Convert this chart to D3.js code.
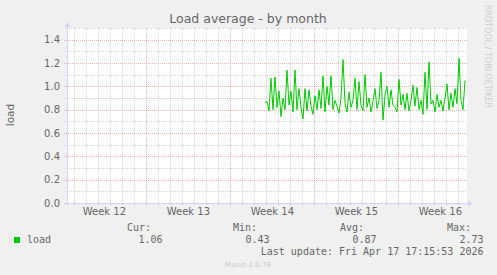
<!DOCTYPE html>
<html><head><meta charset="utf-8">
<script src="https://cdn.jsdelivr.net/npm/d3@7"></script>
<style>
html,body{margin:0;padding:0;background:#f0f0f0;}
svg{display:block;}
text{font-family:"DejaVu Sans",sans-serif;}
.mono{font-family:"DejaVu Sans Mono",monospace;}
</style></head>
<body>
<script>
// ---- data ----
const title = "Load average - by month";
const yLabel = "load";
const seriesName = "load";
const endTime = Date.UTC(2026, 3, 17, 17, 15, 53);
const windowHours = 800;
const stepHours = 4;
const firstSample = Date.UTC(2026, 2, 31, 21, 15, 53);
const loadValues = [
  0.86,0.87,0.79,1.07,0.80,1.08,0.82,0.96,0.74,0.90,
  0.80,1.14,0.84,0.96,0.78,1.14,0.80,0.98,0.82,0.72,
  0.98,0.79,0.97,0.83,0.76,0.92,0.80,0.97,0.81,1.09,
  0.78,1.00,0.84,1.09,0.80,0.88,0.83,0.77,0.90,1.23,
  0.86,0.78,0.95,0.82,0.88,1.07,0.80,1.04,0.84,0.79,
  1.10,0.82,0.90,0.78,0.87,0.98,0.81,0.88,1.12,0.71,
  0.93,1.00,0.82,0.97,0.84,0.82,0.78,1.06,0.84,0.93,
  0.80,0.94,0.79,0.88,1.01,0.83,0.99,0.80,0.88,0.76,
  1.12,0.80,1.21,0.85,0.88,0.78,0.93,0.82,0.88,0.79,
  0.90,1.02,0.80,0.94,0.82,0.98,0.85,1.24,0.88,0.80,
  1.05
];
const yTicks = [0.0,0.2,0.4,0.6,0.8,1.0,1.2,1.4];
const yMinorTicks = [0.1,0.3,0.5,0.7,0.9,1.1,1.3,1.5];
const weekLabels = ["Week 12","Week 13","Week 14","Week 15","Week 16"];
const legendHeads = ["Cur:","Min:","Avg:","Max:"];
const legendValues = ["1.06","0.43","0.87","2.73"];
const lastUpdate = "Last update: Fri Apr 17 17:15:53 2026";
const watermark = "RRDTOOL / TOBI OETIKER";
const footer = "Munin 2.0.76";

// ---- layout ----
const W = 497, H = 275;
const L = 67, R = 467, T = 28, B = 203;
const svg = d3.select("body").append("svg").attr("width", W).attr("height", H);
svg.append("rect").attr("width", W).attr("height", H).attr("fill", "#f0f0f0");
svg.append("rect").attr("x", L).attr("y", T).attr("width", R - L).attr("height", B - T).attr("fill", "#ffffff");

const x = d3.scaleUtc().domain([new Date(endTime - windowHours * 3600e3), new Date(endTime)]).range([L, R]);
const y = d3.scaleLinear().domain([0, 1.5]).range([B, T]);

const gridC = "rgba(143,143,143,0.38)";
const mgridC = "rgba(235,60,60,0.38)";
const g = svg.append("g").attr("shape-rendering", "crispEdges");

// minor vertical (days)
const days = d3.utcDay.range(x.domain()[0], x.domain()[1]);
const sundays = d3.utcSunday.range(x.domain()[0], x.domain()[1]);
const sunSet = new Set(sundays.map(d => +d));
g.selectAll(".vmin").data(days.filter(d => !sunSet.has(+d))).join("line")
  .attr("x1", d => Math.round(x(d)) + 0.5).attr("x2", d => Math.round(x(d)) + 0.5)
  .attr("y1", T).attr("y2", B + 2).attr("stroke", gridC).attr("stroke-dasharray", "1,1");
// minor horizontal
g.selectAll(".hmin").data(yMinorTicks).join("line")
  .attr("x1", L - 2).attr("x2", R).attr("y1", d => Math.round(y(d)) + 0.5).attr("y2", d => Math.round(y(d)) + 0.5)
  .attr("stroke", gridC).attr("stroke-dasharray", "1,1");
// major vertical (weeks)
g.selectAll(".vmaj").data(sundays).join("line")
  .attr("x1", d => Math.round(x(d)) + 0.5).attr("x2", d => Math.round(x(d)) + 0.5)
  .attr("y1", T).attr("y2", B + 3).attr("stroke", mgridC).attr("stroke-dasharray", "1,1");
// major horizontal
g.selectAll(".hmaj").data(yTicks).join("line")
  .attr("x1", L - 3).attr("x2", R).attr("y1", d => Math.round(y(d)) + 0.5).attr("y2", d => Math.round(y(d)) + 0.5)
  .attr("stroke", mgridC).attr("stroke-dasharray", "1,1");

// data line
const pts = loadValues.map((v, i) => ({t: new Date(firstSample + i * stepHours * 3600e3), v}));
svg.append("path").datum(pts)
  .attr("d", d3.line().x(d => x(d.t)).y(d => y(d.v)))
  .attr("fill", "none").attr("stroke", "#00cc00").attr("stroke-width", 1);

// axes
const axisC = "#cfd6f8";
svg.append("line").attr("x1", L + 0.5).attr("x2", L + 0.5).attr("y1", B + 2).attr("y2", T - 2)
  .attr("stroke", axisC).attr("shape-rendering", "crispEdges");
svg.append("line").attr("x1", L - 2).attr("x2", R + 2).attr("y1", B + 0.5).attr("y2", B + 0.5)
  .attr("stroke", axisC).attr("shape-rendering", "crispEdges");
svg.append("path").attr("d", `M${L - 2.5},${T - 1}L${L + 3.5},${T - 1}L${L + 0.5},${T - 6}Z`).attr("fill", axisC);
svg.append("path").attr("d", `M${R + 1},${B - 2.5}L${R + 1},${B + 3.5}L${R + 6},${B + 0.5}Z`).attr("fill", axisC);

const fc = "#666666";
// y tick labels
svg.selectAll(".yl").data(yTicks).join("text")
  .attr("x", 60).attr("y", d => y(d) + 3.5).attr("text-anchor", "end")
  .attr("font-size", 10).attr("fill", fc).text(d => d3.format(".1f")(d));
// week labels (centred in each week)
svg.selectAll(".xl").data(weekLabels).join("text")
  .attr("x", (d, i) => x(d3.utcHour.offset(d3.utcSunday.offset(sundays[0], i - 1), 84)))
  .attr("y", 215).attr("text-anchor", "middle")
  .attr("font-size", 10).attr("fill", fc).text(d => d);

// title
svg.append("text").attr("x", 248).attr("y", 23).attr("text-anchor", "middle")
  .attr("font-size", 12.5).attr("fill", fc).text(title);
// y label
svg.append("text").attr("transform", "translate(14,115) rotate(-90)").attr("text-anchor", "middle")
  .attr("font-size", 10.5).attr("fill", fc).text(yLabel);
// watermark
svg.append("text").attr("transform", "translate(485,5) rotate(90)")
  .attr("font-size", 8).attr("fill", "#cccccc").text(watermark);

// legend
svg.append("rect").attr("x", 14).attr("y", 237).attr("width", 6).attr("height", 6).attr("fill", "#00cc00");
svg.append("text").attr("class", "mono").attr("x", 27).attr("y", 243).attr("font-size", 10).attr("fill", fc).text(seriesName);
const headX = [127, 233, 340, 447];
const valX = [162.5, 269.5, 376.5, 483.5];
svg.selectAll(".lh").data(legendHeads).join("text").attr("class", "mono")
  .attr("x", (d, i) => headX[i]).attr("y", 231).attr("font-size", 10).attr("fill", fc).text(d => d);
svg.selectAll(".lv").data(legendValues).join("text").attr("class", "mono")
  .attr("x", (d, i) => valX[i]).attr("y", 243).attr("text-anchor", "end").attr("font-size", 10).attr("fill", fc).text(d => d);
svg.append("text").attr("class", "mono").attr("x", 483.5).attr("y", 255).attr("text-anchor", "end")
  .attr("font-size", 10).attr("fill", fc).text(lastUpdate);
svg.append("text").attr("x", 248).attr("y", 267).attr("text-anchor", "middle")
  .attr("font-size", 7).attr("fill", "#c8c8c8").text(footer);
</script>
</body></html>
